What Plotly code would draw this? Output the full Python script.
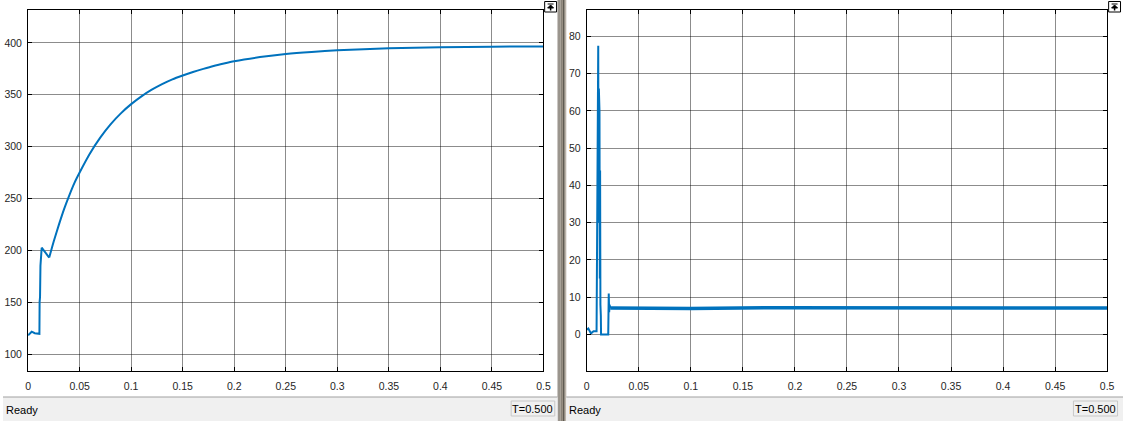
import plotly.graph_objects as go

W, H = 1130, 421

# ---------------- data ----------------
x_ticks = [0, 0.05, 0.1, 0.15, 0.2, 0.25, 0.3, 0.35, 0.4, 0.45, 0.5]
x_labels = ["0", "0.05", "0.1", "0.15", "0.2", "0.25", "0.3", "0.35", "0.4", "0.45", "0.5"]
y1_ticks = [100, 150, 200, 250, 300, 350, 400]
y1_labels = ["100", "150", "200", "250", "300", "350", "400"]
y2_ticks = [0, 10, 20, 30, 40, 50, 60, 70, 80]
y2_labels = ["0", "10", "20", "30", "40", "50", "60", "70", "80"]

# left scope: start-up transient
volt_start_t = [0, 0.0035, 0.0065, 0.0110, 0.0112, 0.0116, 0.0120, 0.0132, 0.0205]
volt_start_v = [118, 121.5, 120, 119.5, 150, 155, 185, 202.5, 193]
# left scope: rise towards steady state
volt_t = [0.0205, 0.025, 0.030, 0.035, 0.040, 0.045, 0.050, 0.060, 0.070, 0.080,
          0.090, 0.100, 0.110, 0.120, 0.130, 0.140, 0.150, 0.160, 0.170, 0.180,
          0.190, 0.200, 0.225, 0.250, 0.275, 0.300, 0.350, 0.400, 0.450, 0.500]
volt_v = [193, 209, 225, 240, 253, 265, 275, 293.4, 308.7, 321.5,
          332.1, 341, 348.5, 354.9, 360.3, 364.9, 368.6, 372.0, 375.0, 377.8,
          380.2, 382.4, 386.4, 389.4, 391.4, 392.9, 394.8, 395.8, 396.4, 396.7]

# right scope: start-up transient
cur_t = [0, 0.0015, 0.004, 0.0065, 0.0094, 0.0096, 0.0101, 0.0106, 0.0110, 0.0113,
         0.0116, 0.0119, 0.0122, 0.0125, 0.0128, 0.0131, 0.0135, 0.0137, 0.0206, 0.0208,
         0.0211, 0.0215, 0.0219, 0.0225]
cur_v = [1.3, 1.6, 0.3, 0.9, 0.9, 15, 26, 50, 77.5, 30,
         66, 40, 60, 15, 44, 8, 5, 0, 0, 8,
         11, 6, 8, 7.1]
# right scope: steady (noisy) part
steady_t = [0.0225, 0.1, 0.184, 0.3, 0.5]
steady_v = [7.1, 7.0, 7.2, 7.1, 7.1]

BLUE = "#0072BD"
FONT = "Liberation Sans, Arial, sans-serif"

def px(x):
    return x / W

def py(y):
    return 1 - y / H

fig = go.Figure()
fig.add_trace(go.Scatter(x=volt_start_t, y=volt_start_v, mode="lines",
                         line=dict(color=BLUE, width=2), xaxis="x", yaxis="y", showlegend=False))
fig.add_trace(go.Scatter(x=volt_t, y=volt_v, mode="lines",
                         line=dict(color=BLUE, width=2, shape="spline", smoothing=0.6),
                         xaxis="x", yaxis="y", showlegend=False))
fig.add_trace(go.Scatter(x=cur_t, y=cur_v, mode="lines", line=dict(color=BLUE, width=2),
                         xaxis="x2", yaxis="y2", showlegend=False))
fig.add_trace(go.Scatter(x=steady_t, y=steady_v, mode="lines", line=dict(color=BLUE, width=3.5),
                         xaxis="x2", yaxis="y2", showlegend=False))

font_ticks = dict(family=FONT, size=10.5, color="#262626")
grid = "rgba(0,0,0,0.45)"
common = dict(showline=True, linecolor="black", linewidth=1, mirror="ticks",
              ticks="inside", ticklen=4, tickcolor="black", showgrid=True,
              gridcolor=grid, gridwidth=1, zeroline=False, tickfont=font_ticks,
              fixedrange=True)

ydom = [py(371), py(10)]
fig.update_layout(
    width=W, height=H, margin=dict(l=0, r=0, t=0, b=0),
    paper_bgcolor="white", plot_bgcolor="white",
    xaxis=dict(domain=[px(25.3), px(545.3)], range=[0, 0.5], tickvals=x_ticks, ticktext=x_labels,
               anchor="y", ticklabelstandoff=5, **common),
    yaxis=dict(domain=ydom, range=[83.6, 431.8], tickvals=y1_ticks, ticktext=y1_labels,
               anchor="x", ticklabelstandoff=3, **common),
    xaxis2=dict(domain=[px(589), px(1114)], range=[0, 0.5], tickvals=x_ticks, ticktext=x_labels,
                anchor="y2", ticklabelstandoff=5, **common),
    yaxis2=dict(domain=ydom, range=[-9.8, 87.1], tickvals=y2_ticks, ticktext=y2_labels,
                anchor="x2", ticklabelstandoff=3, **common),
)

shapes = []
ann = []
# bark strip between the two scope windows
bark = ["#8d857b", "#6f6a60", "#a39b8f", "#7c776c", "#968e82", "#5f5b52", "#8a8378", "#b0a89b"]
sx0, sx1 = 559.5, 568.3
n = len(bark)
for i, c in enumerate(bark):
    shapes.append(dict(type="rect", xref="paper", yref="paper",
                       x0=px(sx0 + (sx1 - sx0) * i / n), x1=px(sx0 + (sx1 - sx0) * (i + 1) / n),
                       y0=0, y1=1, fillcolor=c, line=dict(width=0), layer="above"))

# status bars
for x0, x1, tbox in [(0, 559.5, (512.7, 556.7)), (568.3, 1130, (1080, 1124.5))]:
    shapes.append(dict(type="rect", xref="paper", yref="paper", x0=px(x0), x1=px(x1),
                       y0=py(421), y1=py(397), fillcolor="#f0f0f0", line=dict(width=0), layer="above"))
    shapes.append(dict(type="line", xref="paper", yref="paper", x0=px(x0), x1=px(x1),
                       y0=py(397), y1=py(397), line=dict(color="#a0a0a0", width=1), layer="above"))
    shapes.append(dict(type="rect", xref="paper", yref="paper", x0=px(tbox[0]), x1=px(tbox[1]),
                       y0=py(416), y1=py(401), fillcolor="#f0f0f0",
                       line=dict(color="#c8c8c8", width=1), layer="above"))
    ann.append(dict(text="Ready", xref="paper", yref="paper", x=px(x0 + 1), y=py(410),
                    xanchor="left", yanchor="middle", showarrow=False,
                    font=dict(family=FONT, size=11, color="black")))
    ann.append(dict(text="T=0.500", xref="paper", yref="paper", x=px((tbox[0] + tbox[1]) / 2), y=py(408.5),
                    xanchor="center", yanchor="middle", showarrow=False,
                    font=dict(family=FONT, size=11, color="black")))

# small "undock" buttons top-right of each scope
for bx in (546.5, 1115.5):
    shapes.append(dict(type="rect", xref="paper", yref="paper", x0=px(bx), x1=px(bx + 12),
                       y0=py(12), y1=py(1.5), fillcolor="white", line=dict(color="black", width=1),
                       layer="above"))
    shapes.append(dict(type="line", xref="paper", yref="paper", x0=px(bx + 3), x1=px(bx + 9),
                       y0=py(4), y1=py(4), line=dict(color="black", width=1), layer="above"))
    shapes.append(dict(type="path", xref="paper", yref="paper",
                       path=f"M {px(bx + 3)},{py(8)} L {px(bx + 9)},{py(8)} L {px(bx + 6)},{py(5)} Z",
                       fillcolor="black", line=dict(color="black", width=1), layer="above"))
    shapes.append(dict(type="line", xref="paper", yref="paper", x0=px(bx + 6), x1=px(bx + 6),
                       y0=py(8), y1=py(10.5), line=dict(color="black", width=1.5), layer="above"))

fig.update_layout(shapes=shapes, annotations=ann)
fig.write_html("out.html", config={"displayModeBar": False},
               post_script="document.body.style.margin='0';document.body.style.padding='0';"
                           "document.body.style.overflow='hidden';"
                           "document.documentElement.style.overflow='hidden';")
